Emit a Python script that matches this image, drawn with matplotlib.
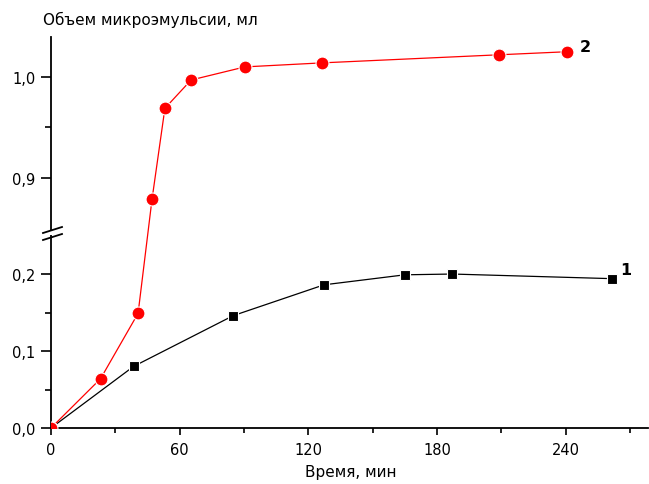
import matplotlib
matplotlib.use("Agg")
import numpy as np
import matplotlib.pyplot as plt
from matplotlib.lines import Line2D
from matplotlib.patches import Rectangle

plt.rcParams['font.family'] = ['DejaVu Sans']

# Data (time in min, volume in ml)
t1 = [0, 38.5, 85, 127.3, 165, 187, 261.4]
v1 = [0.0, 0.080, 0.146, 0.186, 0.199, 0.200, 0.194]
t2 = [0, 23.1, 40.6, 47.1, 53.1, 65.3, 90.4, 126.5, 209, 240.4]
v2 = [0.0, 0.064, 0.149, 0.879, 0.969, 0.997, 1.010, 1.014, 1.022, 1.025]

xticks = [0, 60, 120, 180, 240]
xtick_labels = ['0', '60', '120', '180', '240']
yticks = [0.0, 0.1, 0.2, 0.9, 1.0]
ytick_labels = ['0,0', '0,1', '0,2', '0,9', '1,0']
title = 'Объем микроэмульсии, мл'
xlabel = 'Время, мин'

# broken y axis: piecewise-linear scale (value -> screen units)
vals = [-1.0, 0.0, 0.2494, 0.8475, 1.0396, 2.0]
scr = [-770.0, 0.0, 192.0, 197.0, 391.0, 391.0 + (2.0 - 1.0396) * 1010.0]


def fwd(v):
    return np.interp(v, vals, scr)


def inv(s):
    return np.interp(s, scr, vals)


W, H = 649, 485
fig = plt.figure(figsize=(W / 100, H / 100), dpi=100)


def fx(px):
    return px / W


def fy(py):
    return 1 - py / H


left = fx(51)
right = fx(648)
ax = fig.add_axes([left, fy(429), right - left, fy(38) - fy(429)])
ax.set_yscale('function', functions=(fwd, inv))

ax.plot(t1, v1, color='black', lw=0.9, marker='s', ms=7.6,
        mfc='black', mec='white', mew=0.8, zorder=3)
ax.plot(t2, v2, color='red', lw=0.9, marker='o', ms=9.3,
        mfc='red', mec='white', mew=0.8, zorder=4)

ax.set_xlim(0, 278.3)
ax.set_ylim(0, 1.0396)

ax.spines['top'].set_visible(False)
ax.spines['right'].set_visible(False)
ax.spines['left'].set_linewidth(1.3)
ax.spines['bottom'].set_linewidth(1.3)

ax.set_xticks(xticks)
ax.set_xticklabels(xtick_labels)
ax.set_xticks([30, 90, 150, 210, 270], minor=True)
ax.tick_params(axis='x', which='major', direction='out', length=5, width=1.2,
               labelsize=10.5, pad=5)
ax.tick_params(axis='x', which='minor', direction='out', length=3.5, width=1.2)

ax.set_yticks(yticks)
ax.set_yticklabels(ytick_labels)
ax.set_yticks([0.05, 0.15, 0.95], minor=True)
ax.tick_params(axis='y', which='major', direction='out', length=7, width=1.2,
               labelsize=10.5, pad=4)
ax.tick_params(axis='y', which='minor', direction='out', length=4, width=1.2)

# gap in the y axis line and break marks
fig.add_artist(Rectangle((fx(48), fy(236)), fx(6), fy(231) - fy(236),
                         facecolor='white', edgecolor='none',
                         transform=fig.transFigure, zorder=5))
for (x0, y0, x1, y1) in [(43, 234, 62, 228), (43, 241, 62, 235)]:
    fig.add_artist(Line2D([fx(x0), fx(x1)], [fy(y0), fy(y1)],
                          color='black', lw=1.3, transform=fig.transFigure,
                          zorder=6))

# curve labels
ax.annotate('2', xy=(t2[-1], v2[-1]), xytext=(19, 5), textcoords='offset pixels',
            fontsize=11.5, fontweight='bold', ha='center', va='center')
ax.annotate('1', xy=(t1[-1], v1[-1]), xytext=(14, 9), textcoords='offset pixels',
            fontsize=11.5, fontweight='bold', ha='center', va='center')

fig.text(fx(150), fy(20), title, fontsize=11, ha='center', va='center')
fig.text(fx(351), fy(473), xlabel, fontsize=11, ha='center', va='center')

fig.savefig('out.png', dpi=100)
